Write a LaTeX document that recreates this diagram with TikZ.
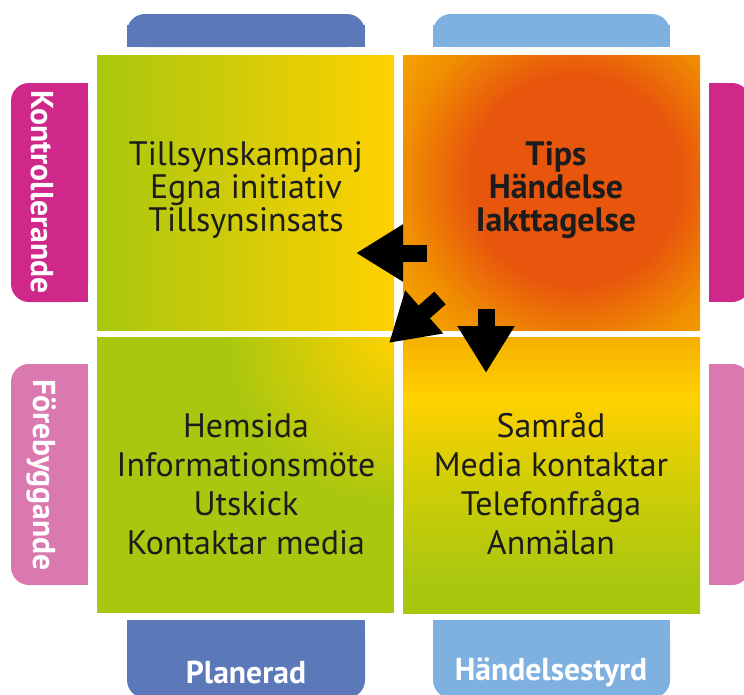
\documentclass[tikz,border=0pt]{standalone}
\usepackage{fontspec}
\setmainfont{PT Sans}
\usetikzlibrary{arrows.meta}

\definecolor{planblue}{HTML}{5B78B9}
\definecolor{eventblue}{HTML}{7FB1E0}
\definecolor{controlpink}{HTML}{D0288A}
\definecolor{preventpink}{HTML}{DA79B0}
\definecolor{quadgreen}{HTML}{A8C70F}
\definecolor{quadgold}{HTML}{FFD100}
\definecolor{quadmix}{HTML}{D4CE05}
\definecolor{amber}{HTML}{F6B000}
\definecolor{tangerine}{HTML}{F08F00}
\definecolor{flame}{HTML}{E8560D}
\definecolor{textgray}{HTML}{1C1C1C}

\pgfdeclareradialshading{tipsglow}{\pgfpoint{0bp}{0bp}}{color(0bp)=(flame); color(11bp)=(flame); color(18bp)=(tangerine); color(25bp)=(amber); color(50bp)=(amber)}
\pgfdeclareverticalshading{eventfade}{100bp}{color(0bp)=(quadgreen); color(30bp)=(quadgreen); color(50bp)=(quadmix); color(64bp)=(quadgold); color(75bp)=(amber); color(100bp)=(amber)}

\begin{document}
\begin{tikzpicture}[x=0.2mm, y=-0.2mm,
  tab/.style={rounded corners=3.6mm},
  quadtext/.style={align=center, text=textgray, font=\fontsize{19.3}{18.7}\selectfont},
  tabtext/.style={text=white, font=\bfseries\fontsize{18}{20}\selectfont},
  blockarrow/.style={line width=3.4mm, -{Triangle[width=10.8mm,length=9.4mm]}}]
\fill[white] (0,0) rectangle (744,695);
\useasboundingbox (0,0) rectangle (744,695);

% top and bottom tabs
\fill[planblue, tab] (127,14) rectangle (365,47);
\fill[planblue] (127,25) rectangle (365,47);
\fill[eventblue, tab] (433,14) rectangle (670,47);
\fill[eventblue] (433,25) rectangle (670,47);
\fill[planblue, tab] (127,620) rectangle (365,698);
\fill[planblue] (127,620) rectangle (365,655);
\fill[eventblue, tab] (433,620) rectangle (670,698);
\fill[eventblue] (433,620) rectangle (670,655);

% side tabs
\fill[controlpink, tab] (11,83) rectangle (88,302);
\fill[controlpink] (50,83) rectangle (88,302);
\fill[preventpink, tab] (11,364) rectangle (88,585);
\fill[preventpink] (50,364) rectangle (88,585);
\fill[controlpink, tab] (709,83) rectangle (750,302);
\fill[controlpink] (709,83) rectangle (735,302);
\fill[preventpink, tab] (709,364) rectangle (750,585);
\fill[preventpink] (709,364) rectangle (735,585);

% quadrants
\shade[left color=quadgreen, right color=quadgold] (97,55) rectangle (394,330);
\begin{scope}
  \clip (403,55) rectangle (700,330);
  \fill[amber] (403,55) rectangle (700,330);
  \shade[shading=tipsglow] (575,180) circle (240);
\end{scope}
\begin{scope}
  \clip (97,337) rectangle (394,613);
  \fill[quadgreen] (97,337) rectangle (394,613);
  \shade[inner color=quadgold, outer color=quadgreen] (394,337) circle (170);
\end{scope}
\shade[shading=eventfade] (403,337) rectangle (700,613);

% texts
\node[quadtext] (planned) at (246,190) {Tillsynskampanj\\Egna initiativ\\Tillsynsinsats};
\node[quadtext, font=\bfseries\fontsize{19.3}{18.7}\selectfont] (tips) at (556,190) {Tips\\Händelse\\Iakttagelse};
\node[quadtext, font=\fontsize{19.3}{22.1}\selectfont] (inform) at (246,484) {Hemsida\\Informationsmöte\\Utskick\\Kontaktar media};
\node[quadtext, font=\fontsize{19.3}{22.1}\selectfont] (contact) at (551,484) {Samråd\\Media kontaktar\\Telefonfråga\\Anmälan};

\node[tabtext, rotate=-90] (control) at (42,192) {Kontrollerande};
\node[tabtext, rotate=-90] (prevent) at (42,475) {Förebyggande};
\node[tabtext] (planlabel) at (246,672) {Planerad};
\node[tabtext] (eventlabel) at (551,672) {Händelsestyrd};

% arrows
\coordinate (leftfrom) at (427,253);
\coordinate (leftto) at (356,253);
\coordinate (diagfrom) at (440,298);
\coordinate (diagto) at (389,343);
\coordinate (downfrom) at (486,309);
\coordinate (downto) at (486,373);
\draw[blockarrow] (leftfrom) -- (leftto);
\draw[blockarrow] (diagfrom) -- (diagto);
\draw[blockarrow] (downfrom) -- (downto);
\end{tikzpicture}
\end{document}
